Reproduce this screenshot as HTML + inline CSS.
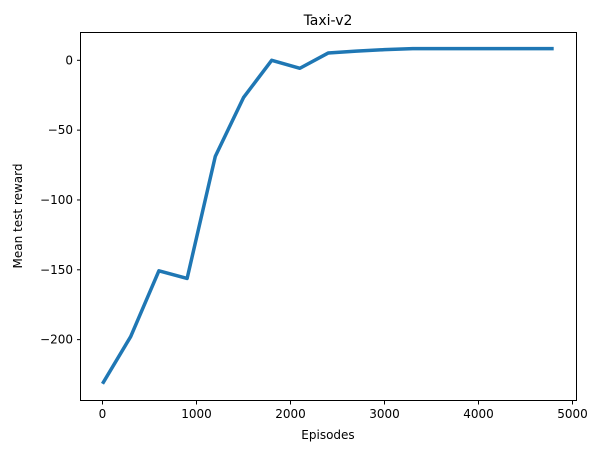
<!DOCTYPE html>
<html><head><meta charset="utf-8"><style>
body{margin:0;background:#fff;font-family:"DejaVu Sans","Liberation Sans",sans-serif;}
svg text{font-family:"DejaVu Sans","Liberation Sans",sans-serif;font-size:12px;fill:#000}
</style></head><body>
<svg id="chart" width="603" height="446">
<rect x="0" y="0" width="603" height="446" fill="#fff"/>
<text x="328" y="25" text-anchor="middle" style="font-size:14px">Taxi-v2</text>
<g id="xticks"></g><g id="yticks"></g>
<polyline id="line" fill="none" stroke="#1f77b4" stroke-width="3.5" stroke-linejoin="round"/>
<rect x="80.5" y="32.5" width="496" height="368" fill="none" stroke="#000" stroke-width="1"/>
<text x="328" y="439" text-anchor="middle">Episodes</text>
<text transform="translate(22,216) rotate(-90)" text-anchor="middle">Mean test reward</text>
</svg>
<script>
const episodes=[0,300,600,900,1200,1500,1800,2100,2400,2700,3000,3300,3600,3900,4200,4500,4800];
const rewards=[-231.6,-197.8,-150.7,-156.2,-68.8,-26.7,0,-5.7,5.2,6.6,7.6,8.4,8.4,8.4,8.4,8.4,8.4];
const xTicks=[0,1000,2000,3000,4000,5000];
const yTicks=[0,-50,-100,-150,-200];
const xs=v=>102.5+v*0.094;
const ys=v=>60.3-v*1.3967;
const NS="http://www.w3.org/2000/svg";
const line=document.getElementById('line');
line.setAttribute('points',episodes.map((e,i)=>xs(e)+','+ys(rewards[i])).join(' '));
const xg=document.getElementById('xticks');
xTicks.forEach(t=>{
 const l=document.createElementNS(NS,'line');
 
 
 l.setAttribute('x1',xs(t));l.setAttribute('x2',xs(t));l.setAttribute('y1',401);l.setAttribute('y2',404.5);l.setAttribute('stroke','#000');
 xg.appendChild(l);
 const tx=document.createElementNS(NS,'text');
 
 
 tx.setAttribute('x',xs(t));tx.setAttribute('y',418);tx.setAttribute('text-anchor','middle');
 tx.textContent=t;xg.appendChild(tx);
});
const yg=document.getElementById('yticks');
yTicks.forEach(t=>{
 const l=document.createElementNS(NS,'line');
 
 
 l.setAttribute('x1',77);l.setAttribute('x2',80.5);l.setAttribute('y1',ys(t));l.setAttribute('y2',ys(t));l.setAttribute('stroke','#000');
 yg.appendChild(l);
 const tx=document.createElementNS(NS,'text');
 
 
 tx.setAttribute('x',73);tx.setAttribute('y',ys(t)+4);tx.setAttribute('text-anchor','end');
 tx.textContent=t<0?'\u2212'+(-t):t;yg.appendChild(tx);
});
</script>
</body></html>
